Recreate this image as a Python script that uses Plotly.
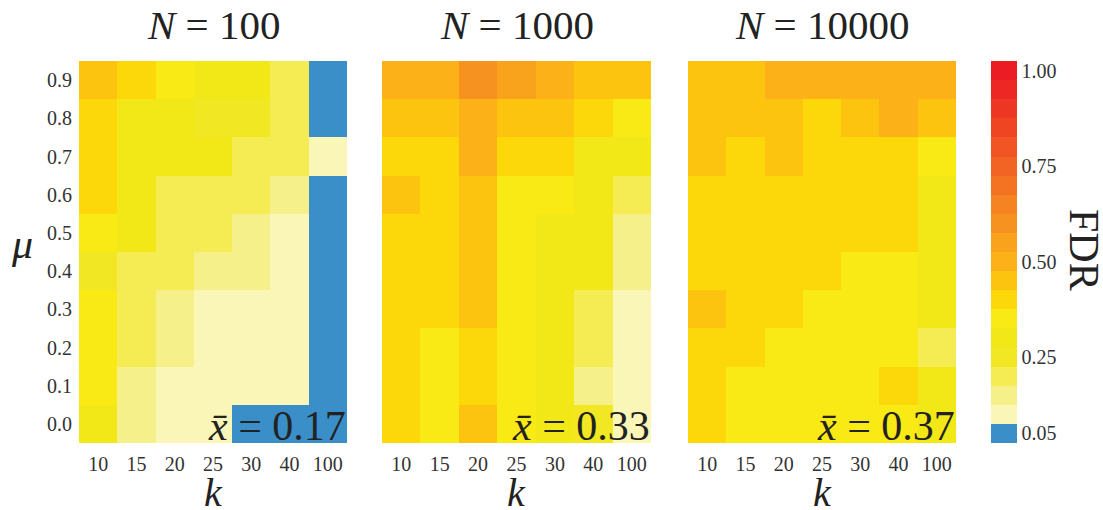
import plotly.graph_objects as go

# ---------------- data ----------------
k_labels = ["10", "15", "20", "25", "30", "40", "100"]
mu_labels = ["0.9", "0.8", "0.7", "0.6", "0.5", "0.4", "0.3", "0.2", "0.1", "0.0"]
n_values = ["100", "1000", "10000"]
mean_labels = ["0.17", "0.33", "0.37"]

# rows: mu = 0.9 (top) ... 0.0 (bottom); columns: k
fdr_n100 = [
    [0.45, 0.40, 0.35, 0.30, 0.30, 0.20, 0.05],
    [0.40, 0.30, 0.30, 0.25, 0.25, 0.20, 0.05],
    [0.40, 0.30, 0.30, 0.30, 0.20, 0.20, 0.10],
    [0.40, 0.30, 0.20, 0.20, 0.20, 0.15, 0.05],
    [0.35, 0.30, 0.20, 0.20, 0.15, 0.10, 0.05],
    [0.25, 0.20, 0.20, 0.15, 0.15, 0.10, 0.05],
    [0.35, 0.20, 0.15, 0.10, 0.10, 0.10, 0.05],
    [0.35, 0.20, 0.15, 0.10, 0.10, 0.10, 0.05],
    [0.35, 0.15, 0.10, 0.10, 0.10, 0.10, 0.05],
    [0.30, 0.15, 0.10, 0.10, 0.05, 0.05, 0.05],
]
fdr_n1000 = [
    [0.50, 0.50, 0.60, 0.55, 0.50, 0.45, 0.45],
    [0.45, 0.45, 0.50, 0.45, 0.45, 0.40, 0.35],
    [0.40, 0.40, 0.50, 0.40, 0.40, 0.30, 0.30],
    [0.45, 0.40, 0.45, 0.35, 0.35, 0.30, 0.20],
    [0.40, 0.40, 0.45, 0.35, 0.30, 0.30, 0.15],
    [0.40, 0.40, 0.45, 0.35, 0.30, 0.30, 0.15],
    [0.40, 0.40, 0.45, 0.35, 0.30, 0.20, 0.10],
    [0.40, 0.35, 0.40, 0.35, 0.30, 0.20, 0.10],
    [0.40, 0.35, 0.40, 0.35, 0.30, 0.15, 0.10],
    [0.40, 0.35, 0.45, 0.35, 0.30, 0.25, 0.10],
]
fdr_n10000 = [
    [0.45, 0.45, 0.50, 0.50, 0.50, 0.50, 0.50],
    [0.45, 0.45, 0.45, 0.40, 0.45, 0.50, 0.45],
    [0.45, 0.40, 0.45, 0.40, 0.40, 0.40, 0.35],
    [0.40, 0.40, 0.40, 0.40, 0.40, 0.40, 0.30],
    [0.40, 0.40, 0.40, 0.40, 0.40, 0.40, 0.30],
    [0.40, 0.40, 0.40, 0.40, 0.35, 0.35, 0.30],
    [0.45, 0.40, 0.40, 0.35, 0.35, 0.35, 0.30],
    [0.40, 0.40, 0.35, 0.35, 0.35, 0.35, 0.20],
    [0.40, 0.35, 0.35, 0.35, 0.35, 0.40, 0.30],
    [0.40, 0.35, 0.35, 0.35, 0.35, 0.35, 0.30],
]
panels = [fdr_n100, fdr_n1000, fdr_n10000]

cbar_tickvals = [0.05, 0.25, 0.50, 0.75, 1.00]
cbar_ticktext = ["0.05", "0.25", "0.50", "0.75", "1.00"]

# discrete colours, one per 0.05 bin (0.05 ... 1.00)
bin_colors = [
    "#3a8fc8", "#f9f6b8", "#f6f08a", "#f4ec52", "#f1e722",
    "#f2e818", "#f9e914", "#fcd80a", "#fcc40f", "#fbb117",
    "#f9a21c", "#f6921f", "#f58321", "#f37322", "#f26423",
    "#f05523", "#ef4523", "#ee3624", "#ed2824", "#ec1c24",
]

# ---------------- figure ----------------
W, H = 1103, 510
FONT = "Liberation Serif"
TXT = "#222222"
TICK = "#333333"


def px(xp):
    return xp / W


def py(yp):
    return 1 - yp / H


nb = len(bin_colors)
colorscale = []
for i, c in enumerate(bin_colors):
    colorscale.append([i / nb, c])
    colorscale.append([(i + 1) / nb, c])

x_domains = [(79, 347), (382, 651), (688, 956)]
y_top, y_bot = 61, 443

fig = go.Figure()
for i, (z, (x0, x1)) in enumerate(zip(panels, x_domains)):
    ax = "" if i == 0 else str(i + 1)
    fig.add_trace(go.Heatmap(
        z=z, x=k_labels, y=mu_labels,
        xaxis="x" + ax, yaxis="y" + ax,
        colorscale=colorscale, zmin=0.025, zmax=1.025,
        showscale=(i == 0), xgap=0, ygap=0,
        colorbar=dict(
            x=px(991), xanchor="left", y=py((y_top + y_bot) / 2), yanchor="middle",
            len=(y_bot - y_top), lenmode="pixels", thickness=26, thicknessmode="pixels",
            outlinewidth=0, ticks="", tickvals=cbar_tickvals, ticktext=cbar_ticktext,
            tickfont=dict(family=FONT, size=20, color=TICK), ticklabelposition="outside",
            xpad=0, ypad=0,
        ),
    ))
    fig.layout["xaxis" + ax] = dict(
        domain=[px(x0), px(x1)], anchor="y" + ax, type="category",
        showgrid=False, zeroline=False, showline=False, ticks="",
        tickfont=dict(family=FONT, size=20, color=TICK), ticklabelstandoff=7,
    )
    fig.layout["yaxis" + ax] = dict(
        domain=[py(y_bot), py(y_top)], anchor="x" + ax, type="category",
        autorange="reversed", showgrid=False, zeroline=False, showline=False, ticks="",
        showticklabels=(i == 0),
        tickfont=dict(family=FONT, size=20, color=TICK), ticklabelstandoff=6,
    )
    xc = (x0 + x1) / 2
    fig.add_annotation(text="<i>N</i> = " + n_values[i], x=px(xc), y=py(25),
                       xref="paper", yref="paper", showarrow=False,
                       xanchor="center", yanchor="middle",
                       font=dict(family=FONT, size=41, color=TXT))
    fig.add_annotation(text="<i>k</i>", x=px(xc), y=py(492),
                       xref="paper", yref="paper", showarrow=False,
                       xanchor="center", yanchor="middle",
                       font=dict(family=FONT, size=40, color=TXT))
    fig.add_annotation(text="<i>x̄</i> = " + mean_labels[i], x=px(x1 + 1), y=py(426),
                       xref="paper", yref="paper", showarrow=False,
                       xanchor="right", yanchor="middle",
                       font=dict(family=FONT, size=42, color=TXT))

fig.add_annotation(text="<i>μ</i>", x=px(22), y=py(244), xref="paper", yref="paper",
                   showarrow=False, xanchor="center", yanchor="middle",
                   font=dict(family=FONT, size=42, color=TXT))
fig.add_annotation(text="FDR", x=px(1084), y=py(250), xref="paper", yref="paper",
                   showarrow=False, textangle=90, xanchor="center", yanchor="middle",
                   font=dict(family=FONT, size=42, color=TXT))

fig.update_layout(
    width=W, height=H, margin=dict(l=0, r=0, t=0, b=0),
    paper_bgcolor="white", plot_bgcolor="white", showlegend=False,
)

fig.write_html(
    "out.html",
    config={"displayModeBar": False},
    post_script="document.body.style.margin='0';document.body.style.overflow='hidden';",
)
